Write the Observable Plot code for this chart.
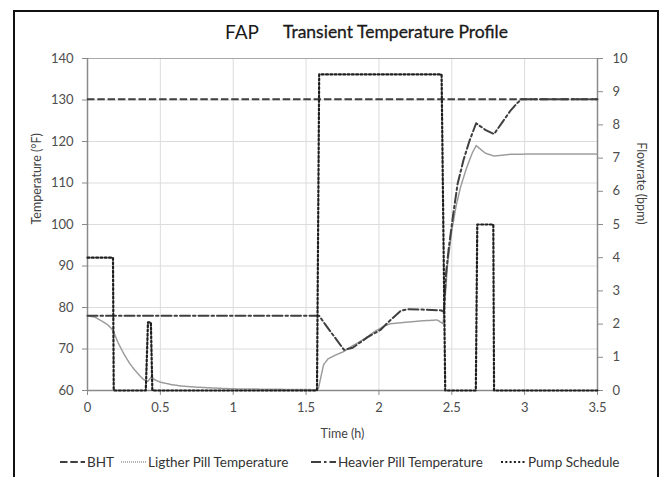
<!DOCTYPE html>
<html>
<head>
<meta charset="utf-8">
<script src="https://cdn.jsdelivr.net/npm/d3@7"></script>
<script src="https://cdn.jsdelivr.net/npm/@observablehq/plot@0.6"></script>
<style>
  html, body { margin: 0; padding: 0; background: #fff; }
  #wrap { position: relative; width: 665px; height: 477px; overflow: hidden; font-family: Lato, "Open Sans", sans-serif; }
  #chart { position: absolute; left: 0; top: 0; }
  #frame { position: absolute; left: 13px; top: 10px; width: 646px; height: 520px; border: 2.5px solid #111; box-sizing: border-box; }
  #title { position: absolute; top: 20px; left: 0; width: 665px; height: 26px; color: #1a1a1a; }
  #title .a { position: absolute; left: 225px; top: 0; font-size: 19px; }
  #title .b { position: absolute; left: 283px; top: 1px; font-size: 17.5px; font-weight: 400; -webkit-text-stroke: 0.3px #1a1a1a; }
  .leg { position: absolute; top: 454px; font-size: 13.5px; color: #333; display: flex; align-items: center; white-space: nowrap; }
  .leg svg { margin-right: 2px; }
</style>
</head>
<body>
<div id="wrap">
  <div id="chart"></div>
  <div id="title"><span class="a">FAP</span><span class="b">Transient Temperature Profile</span></div>
  <div id="legend"></div>
  <div id="frame"></div>
</div>
<script>
// Bottom-hole temperature (°F)
const bhtTemp = 130.2;

// Lighter pill temperature (°F) vs time (h)
const lightTime = [0, 0.05, 0.1, 0.14, 0.175, 0.21, 0.25, 0.29, 0.32, 0.36, 0.39, 0.415, 0.44, 0.46, 0.5, 0.58, 0.64, 0.75, 0.87, 1.0, 1.25, 1.57,
  1.585, 1.6, 1.62, 1.65, 1.7, 1.76, 1.82, 1.9, 1.97, 2.04, 2.08, 2.2, 2.3, 2.4, 2.44,
  2.45, 2.47, 2.5, 2.53, 2.56, 2.6, 2.64, 2.667, 2.73, 2.79, 2.9, 3.06, 3.5];
const lightTemp = [78, 77.7, 76.7, 75.8, 74.5, 71.5, 68.8, 66.5, 65.1, 63.5, 62.5, 62.2, 63.4, 62.6, 62.0, 61.4, 61.1, 60.8, 60.6, 60.4, 60.3, 60.2,
  60.5, 63, 66.2, 67.6, 68.5, 69.4, 70.8, 72.4, 74.2, 75.6, 76.1, 76.5, 76.8, 77.0, 76.1,
  80, 90, 98.5, 104.5, 109, 113.5, 117.2, 119, 117.2, 116.5, 116.9, 117.0, 117.0];

// Heavier pill temperature (°F) vs time (h)
const heavyTime = [0, 1.59, 1.64, 1.71, 1.76, 1.82, 1.92, 2.01, 2.08, 2.15, 2.2, 2.3, 2.43, 2.445,
  2.46, 2.48, 2.51, 2.54, 2.58, 2.62, 2.667, 2.73, 2.79, 2.85, 2.9, 2.95, 2.98, 3.5];
const heavyTemp = [78, 78, 75.5, 72.2, 69.8, 70.3, 72.8, 74.6, 77, 79.2, 79.6, 79.5, 79.3, 78.6,
  88, 94.5, 102.5, 109.8, 115.5, 120, 124.4, 122.8, 121.8, 124.8, 127.3, 129.3, 130.2, 130.2];

// Pump schedule, flowrate (bpm) vs time (h)
const pumpTime = [0, 0.175, 0.18, 0.40, 0.415, 0.435, 0.445, 1.575, 1.59, 2.43, 2.455, 2.665, 2.675, 2.785, 2.79, 3.5];
const pumpRate = [4, 4, 0, 0, 2.05, 2.05, 0, 0, 9.52, 9.52, 0, 0, 5, 5, 0, 0];

// Axis ticks
const timeTicks = [0, 0.5, 1, 1.5, 2, 2.5, 3, 3.5];
const tempTicks = [60, 70, 80, 90, 100, 110, 120, 130, 140];
const flowTicks = [0, 1, 2, 3, 4, 5, 6, 7, 8, 9, 10];

// Flowrate shares the temperature scale: 0–10 bpm spans 60–140 °F
const flowToTemp = q => 60 + q * 8;

const lightData = lightTime.map((t, i) => ({t, v: lightTemp[i]}));
const heavyData = heavyTime.map((t, i) => ({t, v: heavyTemp[i]}));
const pumpData = pumpTime.map((t, i) => ({t, v: flowToTemp(pumpRate[i])}));

const axisColor = "#8a8a8a";
const gridColor = "#dcdcdc";

const styles = {
  bht:   {stroke: "#3f3f3f", strokeWidth: 2, strokeDasharray: "7.5,2.8"},
  light: {stroke: "#9a9a9a", strokeWidth: 1.5, strokeDasharray: "1,1"},
  heavy: {stroke: "#3f3f3f", strokeWidth: 2, strokeDasharray: "10,3,2.5,3"},
  pump:  {stroke: "#1f1f1f", strokeWidth: 2.2, strokeDasharray: "2,2.3"}
};

const chart = Plot.plot({
  width: 665,
  height: 477,
  marginLeft: 87,
  marginRight: 68,
  marginTop: 58,
  marginBottom: 87,
  style: {background: "transparent", fontFamily: "Lato, 'Open Sans', sans-serif", fontSize: "13px", color: "#4d4d4d"},
  x: {domain: [0, 3.5]},
  y: {domain: [60, 140]},
  marks: [
    Plot.gridX(timeTicks, {stroke: gridColor, strokeOpacity: 1, strokeWidth: 1}),
    Plot.gridY(tempTicks, {stroke: gridColor, strokeOpacity: 1, strokeWidth: 1}),
    Plot.ruleY([140], {stroke: "#a8a8a8", strokeWidth: 1.2}),
    Plot.ruleY([60], {stroke: axisColor, strokeWidth: 1.5}),
    Plot.ruleX([0], {stroke: axisColor, strokeWidth: 1.5}),
    Plot.ruleX([3.5], {stroke: axisColor, strokeWidth: 1.5}),
    Plot.axisX(timeTicks, {anchor: "bottom", tickSize: 5, tickPadding: 7, stroke: axisColor, label: null, tickFormat: d => String(d), fontSize: 13}),
    Plot.axisY(tempTicks, {anchor: "left", tickSize: 5, tickPadding: 9, stroke: axisColor, label: null, fontSize: 13}),
    Plot.axisY(flowTicks.map(flowToTemp), {anchor: "right", tickSize: 5, tickPadding: 10, stroke: axisColor, label: null, tickFormat: d => String((d - 60) / 8), fontSize: 13}),
    Plot.text(["Temperature (°F)"], {frameAnchor: "left", dx: -51, rotate: -90, fontSize: 12.5, fill: "#444"}),
    Plot.text(["Flowrate (bpm)"], {frameAnchor: "right", dx: 43, rotate: 90, fontSize: 12.5, fill: "#444"}),
    Plot.text(["Time (h)"], {frameAnchor: "bottom", dy: 47, fontSize: 12.5, fill: "#444"}),
    Plot.ruleY([bhtTemp], {x1: 0, x2: 3.5, ...styles.bht}),
    Plot.line(lightData, {x: "t", y: "v", ...styles.light}),
    Plot.line(heavyData, {x: "t", y: "v", ...styles.heavy}),
    Plot.line(pumpData, {x: "t", y: "v", ...styles.pump})
  ]
});
document.getElementById("chart").appendChild(chart);

// Legend row under the chart
const legendItems = [
  {name: "BHT", left: 60, s: styles.bht},
  {name: "Ligther Pill Temperature", left: 121, s: styles.light},
  {name: "Heavier Pill Temperature", left: 311, s: styles.heavy},
  {name: "Pump Schedule", left: 501, s: styles.pump}
];
const legend = document.getElementById("legend");
for (const item of legendItems) {
  const div = document.createElement("div");
  div.className = "leg";
  div.style.left = item.left + "px";
  div.innerHTML = `<svg width="25" height="10"><line x1="0" x2="25" y1="5" y2="5" stroke="${item.s.stroke}" stroke-width="${item.s.strokeWidth}" stroke-dasharray="${item.s.strokeDasharray}"/></svg><span>${item.name}</span>`;
  legend.appendChild(div);
}
</script>
</body>
</html>
